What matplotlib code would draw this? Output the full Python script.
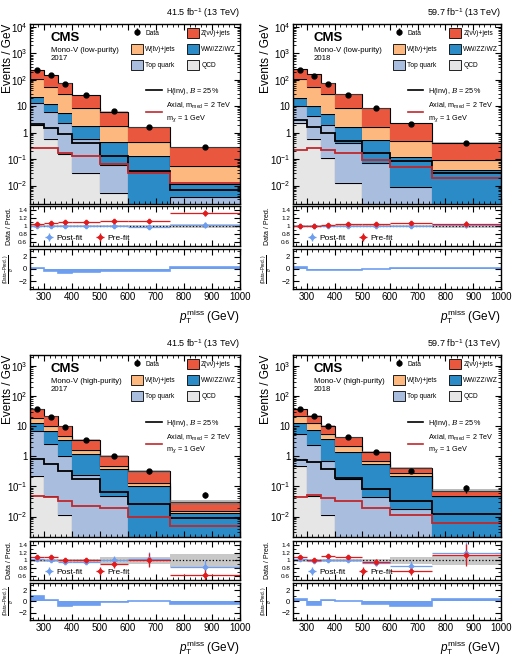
import numpy as np
import matplotlib
matplotlib.use("Agg")
import matplotlib.pyplot as plt
from matplotlib.ticker import FixedLocator, FuncFormatter, AutoMinorLocator, LogLocator, NullFormatter
from matplotlib.patches import Patch
from matplotlib.lines import Line2D

plt.rcParams['font.family'] = ['Liberation Sans', 'DejaVu Sans']
plt.rcParams['mathtext.fontset'] = 'custom'
plt.rcParams['mathtext.rm'] = 'Liberation Sans'
plt.rcParams['mathtext.it'] = 'Liberation Sans:italic'
plt.rcParams['mathtext.bf'] = 'Liberation Sans:bold'
plt.rcParams['mathtext.cal'] = 'DejaVu Serif:italic'

# p_T^miss bin edges (GeV)
edges = [250, 300, 350, 400, 500, 600, 750, 1000]

# --- Mono-V low-purity 2017 ---
lp17_qcd = [1.95, 0.56, 0.15, 0.029, 0.005, 0.0005, 0.0003]
lp17_top = [11.7, 5.6, 2.15, 0.53, 0.055, 0.0013, 0.0035]
lp17_vv = [9.3, 5.7, 3.1, 1.24, 0.40, 0.133, 0.0072]
lp17_w = [82, 43, 23, 6.6, 1.38, 0.30, 0.045]
lp17_z = [131, 99, 45.5, 18.6, 4.46, 1.17, 0.224]
lp17_hinv = [2.2, 1.46, 0.89, 0.40, 0.135, 0.035, 0.0067]
lp17_axial = [0.27, 0.27, 0.17, 0.13, 0.063, 0.029, 0.012]
lp17_data = [230, 150, 72, 26, 6.4, 1.6, 0.28]
lp17_prefit = [1.05, 1.075, 1.09, 1.11, 1.12, 1.13, 1.33]
lp17_postfit = [1.0, 1.0, 1.0, 1.0, 1.0, 0.98, 1.02]
lp17_err = [0.01, 0.01, 0.015, 0.015, 0.03, 0.05, 0.08]
lp17_unc = [0.02, 0.02, 0.02, 0.02, 0.02, 0.03, 0.04]
lp17_pull = [0.1, -0.3, -0.6, -0.45, -0.4, -0.4, 0.25]

# --- Mono-V low-purity 2018 ---
lp18_qcd = [2.3, 0.56, 0.107, 0.012, 0.0015, 0.0005, 0.0003]
lp18_top = [8.0, 3.74, 1.84, 0.388, 0.0675, 0.0085, 0.0012]
lp18_vv = [9.7, 6.2, 3.05, 1.3, 0.46, 0.111, 0.0375]
lp18_w = [85, 41.5, 23, 6.7, 1.17, 0.38, 0.054]
lp18_z = [147, 114, 46, 19.6, 6.7, 1.8, 0.327]
lp18_hinv = [3.0, 1.7, 1.0, 0.49, 0.17, 0.085, 0.030]
lp18_axial = [0.22, 0.27, 0.22, 0.17, 0.093, 0.05, 0.020]
lp18_data = [236, 140, 70, 27, 8.4, 2.1, 0.42]
lp18_prefit = [1.0, 1.01, 1.02, 1.04, 1.05, 1.07, 1.06]
lp18_postfit = [1.0, 1.0, 1.0, 1.0, 1.0, 0.99, 1.03]
lp18_err = [0.01, 0.01, 0.01, 0.015, 0.02, 0.04, 0.07]
lp18_unc = [0.02, 0.02, 0.02, 0.02, 0.02, 0.03, 0.05]
lp18_pull = [0.3, -0.2, -0.2, -0.2, 0.0, 0.1, 0.2]

# --- Mono-V high-purity 2017 ---
hp17_qcd = [0.23, 0.05, 0.011, 0.0012, 0.0005, 0.0003, 0.0002]
hp17_top = [6.57, 2.45, 0.99, 0.244, 0.0465, 0.0012, 0.0008]
hp17_vv = [6.2, 4.3, 2.4, 0.985, 0.333, 0.0985, 0.0125]
hp17_w = [6.0, 3.2, 1.2, 0.44, 0.11, 0.03, 0.0015]
hp17_z = [17, 11.5, 5.4, 1.93, 0.51, 0.19, 0.015]
hp17_hinv = [0.82, 0.57, 0.33, 0.18, 0.063, 0.026, 0.009]
hp17_axial = [0.047, 0.044, 0.032, 0.023, 0.020, 0.0095, 0.0047]
hp17_data = [36, 20.6, 9.5, 3.6, 1.0, 0.32, 0.053]
hp17_prefit = [1.10, 1.08, 1.01, 1.02, 0.91, 1.0, 0.64]
hp17_postfit = [1.03, 1.02, 0.96, 0.96, 1.02, 1.04, 0.82]
hp17_err = [0.03, 0.04, 0.05, 0.05, 0.10, 0.18, 0.2]
hp17_unc = [0.03, 0.03, 0.03, 0.03, 0.08, 0.10, 0.17]
hp17_pull = [1.0, 0.3, -0.8, -0.6, -0.1, 0.15, -0.5]

# --- Mono-V high-purity 2018 ---
hp18_qcd = [0.49, 0.047, 0.011, 0.0012, 0.0005, 0.0003, 0.0002]
hp18_top = [5.0, 2.35, 0.69, 0.179, 0.0435, 0.0177, 0.001]
hp18_vv = [7.2, 5.2, 3.1, 1.24, 0.516, 0.212, 0.0458]
hp18_w = [8.3, 5.1, 1.7, 0.83, 0.16, 0.05, 0.003]
hp18_z = [16, 9.3, 4.9, 2.05, 0.70, 0.12, 0.023]
hp18_hinv = [0.76, 0.63, 0.38, 0.19, 0.083, 0.032, 0.012]
hp18_axial = [0.044, 0.052, 0.040, 0.032, 0.019, 0.011, 0.0062]
hp18_data = [37, 21, 10.4, 4.3, 1.36, 0.33, 0.087]
hp18_prefit = [1.08, 1.0, 1.12, 1.08, 0.96, 0.74, 1.15]
hp18_postfit = [1.03, 0.99, 1.02, 1.0, 0.94, 0.86, 1.18]
hp18_err = [0.03, 0.03, 0.04, 0.05, 0.08, 0.12, 0.28]
hp18_unc = [0.03, 0.03, 0.03, 0.03, 0.03, 0.08, 0.12]
hp18_pull = [0.5, -0.6, 0.3, 0.1, -0.4, -0.8, 0.5]

z_col = '#e9573f'
w_col = '#fdb87f'
vv_col = '#2b8bc6'
top_col = '#a9bedf'
qcd_col = '#e6e6e6'
sig_red = '#c0282d'
pre_col = '#e31a1c'
post_col = '#6e9ef0'

edges_a = np.array(edges, dtype=float)
centers = 0.5 * (edges_a[1:] + edges_a[:-1])
halfw = 0.5 * (edges_a[1:] - edges_a[:-1])


def dec_fmt(v, pos):
    e = int(round(np.log10(v)))
    if e == 0:
        return '1'
    if e == 1:
        return '10'
    return r'$10^{%d}$' % e


def style_ax(ax):
    ax.tick_params(which='both', direction='in', top=True, right=True, labelsize=7, pad=2)
    ax.tick_params(which='major', length=4, width=0.8)
    ax.tick_params(which='minor', length=2, width=0.6)
    for s in ax.spines.values():
        s.set_linewidth(1.0)
    ax.set_xlim(250, 1000)
    ax.xaxis.set_major_locator(FixedLocator(range(300, 1001, 100)))
    ax.xaxis.set_minor_locator(AutoMinorLocator(5))


def draw_panel(x0, w, rows, ylim, lumi, label, lab_x, d):
    main_box, ratio_box, pull_box = rows
    ax = fig.add_axes([x0, main_box[0], w, main_box[1]])
    ax_r = fig.add_axes([x0, ratio_box[0], w, ratio_box[1]])
    ax_p = fig.add_axes([x0, pull_box[0], w, pull_box[1]])
    for a in (ax, ax_r, ax_p):
        style_ax(a)

    # stacked backgrounds
    base = np.full(7, 1e-6)
    for vals, col in zip([d['qcd'], d['top'], d['vv'], d['w'], d['z']],
                         [qcd_col, top_col, vv_col, w_col, z_col]):
        top = base + np.array(vals)
        ax.stairs(top, edges, baseline=base, fill=True, color=col, lw=0)
        ax.stairs(top, edges, baseline=None, color='k', lw=0.8)
        base = top
    unc = np.array(d['unc'])
    ax.stairs(base * (1 + unc), edges, baseline=base * (1 - unc), fill=True,
              color='#777777', alpha=0.5, lw=0)
    ax.stairs(d['hinv'], edges, baseline=None, color='k', lw=1.3)
    ax.stairs(d['axial'], edges, baseline=None, color=sig_red, lw=1.3)
    data = np.array(d['data'])
    h_data = ax.errorbar(centers, data, yerr=data * np.array(d['err']), fmt='o',
                         color='k', ms=3.5, elinewidth=1, capsize=0)

    ax.set_yscale('log')
    ax.set_ylim(*ylim)
    ax.yaxis.set_major_locator(LogLocator(base=10, numticks=20))
    ax.yaxis.set_major_formatter(FuncFormatter(dec_fmt))
    ax.yaxis.set_minor_locator(LogLocator(base=10, subs=np.arange(2, 10), numticks=20))
    ax.yaxis.set_minor_formatter(NullFormatter())
    ax.tick_params(axis='x', labelbottom=False)
    ax.set_ylabel('Events / GeV', fontsize=8.5, loc='top')
    ax.yaxis.set_label_coords(lab_x, 1.0)

    ax.text(1.0, 1.02, lumi, transform=ax.transAxes, ha='right', va='bottom', fontsize=6.5)
    ax.text(0.10, 0.925, 'CMS', transform=ax.transAxes, fontsize=9.5,
            fontweight='bold', va='center')
    ax.text(0.10, 0.875, label, transform=ax.transAxes, fontsize=5.6, va='top',
            linespacing=1.25)

    def box(c):
        return Patch(facecolor=c, edgecolor='k', lw=0.6)
    leg1 = ax.legend([h_data, box(w_col), box(top_col), box(z_col), box(vv_col), box(qcd_col)],
                     ['Data', 'W(\u2113\u03bd)+jets', 'Top quark',
                      'Z(\u03bd\u03bd)+jets', 'WW/ZZ/WZ', 'QCD'],
                     ncol=2, loc='upper left', bbox_to_anchor=(0.46, 1.0), frameon=False,
                     fontsize=4.8, handlelength=1.8, handleheight=2.0, columnspacing=1.6,
                     labelspacing=0.85, handletextpad=0.4, borderaxespad=0.2)
    ax.add_artist(leg1)
    ax.legend([Line2D([], [], color='k', lw=1.2), Line2D([], [], color=sig_red, lw=1.2)],
              ['H(inv), $\\mathcal{B}$ = 25%',
               'Axial, m$_{\\mathrm{med}}$ = 2 TeV\nm$_{\\chi}$ = 1 GeV'],
              loc='upper left', bbox_to_anchor=(0.53, 0.68), frameon=False, fontsize=5.2,
              handlelength=2.2, handletextpad=0.6, labelspacing=0.6, borderaxespad=0.2)

    # ratio panel
    ax_r.stairs(1 + unc, edges, baseline=1 - unc, fill=True, color='#c8c8c8', lw=0)
    ax_r.axhline(1, color='k', ls=':', lw=0.9)
    err = np.array(d['err'])
    h_post = ax_r.errorbar(centers, d['postfit'], xerr=halfw, yerr=err, fmt='P',
                           color=post_col, ms=3, lw=0.9, capsize=0)
    h_pre = ax_r.errorbar(centers, d['prefit'], xerr=halfw, yerr=err, fmt='P',
                          color=pre_col, ms=3, lw=0.9, capsize=0)
    ax_r.set_ylim(0.5, 1.5)
    ax_r.set_yticks([0.6, 0.8, 1.0, 1.2, 1.4])
    ax_r.set_yticklabels(['0.6', '0.8', '1', '1.2', '1.4'], fontsize=4.6)
    ax_r.yaxis.set_minor_locator(AutoMinorLocator(2))
    ax_r.tick_params(axis='x', labelbottom=False)
    ax_r.set_ylabel('Data / Pred.', fontsize=5)
    ax_r.yaxis.set_label_coords(lab_x - 0.005, 0.5)
    ax_r.legend([h_post, h_pre], ['Post-fit', 'Pre-fit'], loc='lower left', ncol=2,
                frameon=False, fontsize=6, handlelength=1.2, handletextpad=0.3,
                columnspacing=1.5, bbox_to_anchor=(0.05, 0.02), borderaxespad=0)

    # pull panel
    ax_p.stairs(d['pull'], edges, baseline=0, fill=True, color=post_col, lw=0)
    ax_p.stairs(d['pull'], edges, baseline=None, color=post_col, lw=1.2)
    ax_p.set_ylim(-3.3, 3.3)
    ax_p.set_yticks([-2, 0, 2])
    ax_p.set_yticklabels(['\u22122', '0', '2'], fontsize=5.5)
    ax_p.yaxis.set_minor_locator(AutoMinorLocator(2))
    ax_p.set_ylabel(r'$\frac{\mathrm{(Data\!-\!Pred.)}}{\sigma}$', fontsize=4.8)
    ax_p.yaxis.set_label_coords(lab_x + 0.008, 0.5)
    ax_p.set_xlabel(r'$p_{\mathrm{T}}^{\mathrm{miss}}$ (GeV)', fontsize=8.5, loc='right')


fig = plt.figure(figsize=(5.16, 6.56), dpi=100)

top_rows = ([0.689, 0.2744], [0.625, 0.061], [0.5595, 0.061])
bot_rows = ([0.1814, 0.2774], [0.1159, 0.0595], [0.0549, 0.0564])
left = (0.0581, 0.407)
right = (0.5678, 0.403)

panels = [
    (left, top_rows, (2e-3, 1.3e4), '41.5 fb$^{-1}$ (13 TeV)', 'Mono-V (low-purity)\n2017',
     dict(qcd=lp17_qcd, top=lp17_top, vv=lp17_vv, w=lp17_w, z=lp17_z, hinv=lp17_hinv,
          axial=lp17_axial, data=lp17_data, prefit=lp17_prefit, postfit=lp17_postfit,
          err=lp17_err, unc=lp17_unc, pull=lp17_pull)),
    (right, top_rows, (2e-3, 1.3e4), '59.7 fb$^{-1}$ (13 TeV)', 'Mono-V (low-purity)\n2018',
     dict(qcd=lp18_qcd, top=lp18_top, vv=lp18_vv, w=lp18_w, z=lp18_z, hinv=lp18_hinv,
          axial=lp18_axial, data=lp18_data, prefit=lp18_prefit, postfit=lp18_postfit,
          err=lp18_err, unc=lp18_unc, pull=lp18_pull)),
    (left, bot_rows, (2.1e-3, 2.3e3), '41.5 fb$^{-1}$ (13 TeV)', 'Mono-V (high-purity)\n2017',
     dict(qcd=hp17_qcd, top=hp17_top, vv=hp17_vv, w=hp17_w, z=hp17_z, hinv=hp17_hinv,
          axial=hp17_axial, data=hp17_data, prefit=hp17_prefit, postfit=hp17_postfit,
          err=hp17_err, unc=hp17_unc, pull=hp17_pull)),
    (right, bot_rows, (2.1e-3, 2.3e3), '59.7 fb$^{-1}$ (13 TeV)', 'Mono-V (high-purity)\n2018',
     dict(qcd=hp18_qcd, top=hp18_top, vv=hp18_vv, w=hp18_w, z=hp18_z, hinv=hp18_hinv,
          axial=hp18_axial, data=hp18_data, prefit=hp18_prefit, postfit=hp18_postfit,
          err=hp18_err, unc=hp18_unc, pull=hp18_pull)),
]

for (x0, w), rows, ylim, lumi, label, d in panels:
    lab_x = -0.075 if x0 < 0.5 else -0.10
    draw_panel(x0, w, rows, ylim, lumi, label, lab_x, d)

fig.savefig('out.png', dpi=100)
